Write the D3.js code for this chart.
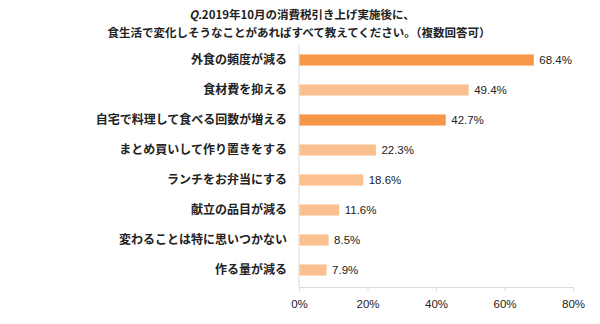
<!DOCTYPE html>
<html><head><meta charset="utf-8">
<script src="https://cdn.jsdelivr.net/npm/d3@7"></script>
<style>body{margin:0;background:#fff;} svg{display:block;}</style>
</head><body>
<script>
const categories = ["外食の頻度が減る","食材費を抑える","自宅で料理して食べる回数が増える","まとめ買いして作り置きをする","ランチをお弁当にする","献立の品目が減る","変わることは特に思いつかない","作る量が減る"];
const values = [68.4,49.4,42.7,22.3,18.6,11.6,8.5,7.9];
const highlight = [true,false,true,false,false,false,false,false];
const ticks = [0,20,40,60,80];
const titleLines = ["Q.2019年10月の消費税引き上げ実施後に、","食生活で変化しそうなことがあればすべて教えてください。（複数回答可）"];

const W=600,H=324;
const svg=d3.select("body").append("svg").attr("width",W).attr("height",H);
const x=d3.scaleLinear().domain([0,80]).range([299,573]);
const y=d3.scaleBand().domain(categories).range([45,285]).paddingInner(0.63).paddingOuter(0.315);
const jp="'Noto Sans CJK JP','Noto Sans',sans-serif";
const num="'Liberation Sans','DejaVu Sans',sans-serif";

// title
const t=svg.append("g").attr("font-family",jp).attr("font-weight","bold").attr("font-size",11.5).attr("fill","#222").attr("text-anchor","middle");
const l1=t.append("text").attr("x",302).attr("y",19);
l1.append("tspan").attr("font-style","italic").text("Q.");
l1.append("tspan").text(titleLines[0].slice(2));
t.append("text").attr("x",299).attr("y",37).text(titleLines[1]);

// x axis
const xa=svg.append("g").attr("transform","translate(0,287)").call(d3.axisBottom(x).tickValues(ticks).tickFormat(d=>d+"%").tickSize(4).tickSizeOuter(0));
xa.select(".domain").attr("stroke","#d9d9d9");
xa.selectAll(".tick line").attr("stroke","#d9d9d9");
xa.selectAll("text").attr("font-family",num).attr("font-size",11.5).attr("fill","#222").attr("dy","1.2em");

// y axis line
svg.append("line").attr("x1",x(0)).attr("x2",x(0)).attr("y1",45).attr("y2",287).attr("stroke","#d9d9d9");

// bars
svg.selectAll("rect.bar").data(categories).enter().append("rect")
 .attr("x",x(0)+0.5).attr("y",d=>y(d)).attr("height",y.bandwidth())
 .attr("width",(d,i)=>x(values[i])-x(0)).attr("fill",(d,i)=>highlight[i]?"#F79646":"#FAC090");

// value labels
svg.selectAll("text.val").data(categories).enter().append("text")
 .attr("x",(d,i)=>x(values[i])+6).attr("y",d=>y(d)+y.bandwidth()/2).attr("dy","0.36em")
 .attr("font-family",num).attr("font-size",11.5).attr("fill","#222").text((d,i)=>values[i].toFixed(1)+"%");

// category labels
svg.selectAll("text.cat").data(categories).enter().append("text")
 .attr("x",287).attr("y",d=>y(d)+y.bandwidth()/2).attr("dy","0.36em").attr("text-anchor","end")
 .attr("font-family",jp).attr("font-weight","bold").attr("font-size",12).attr("fill","#222").text(d=>d);
</script>
</body></html>
